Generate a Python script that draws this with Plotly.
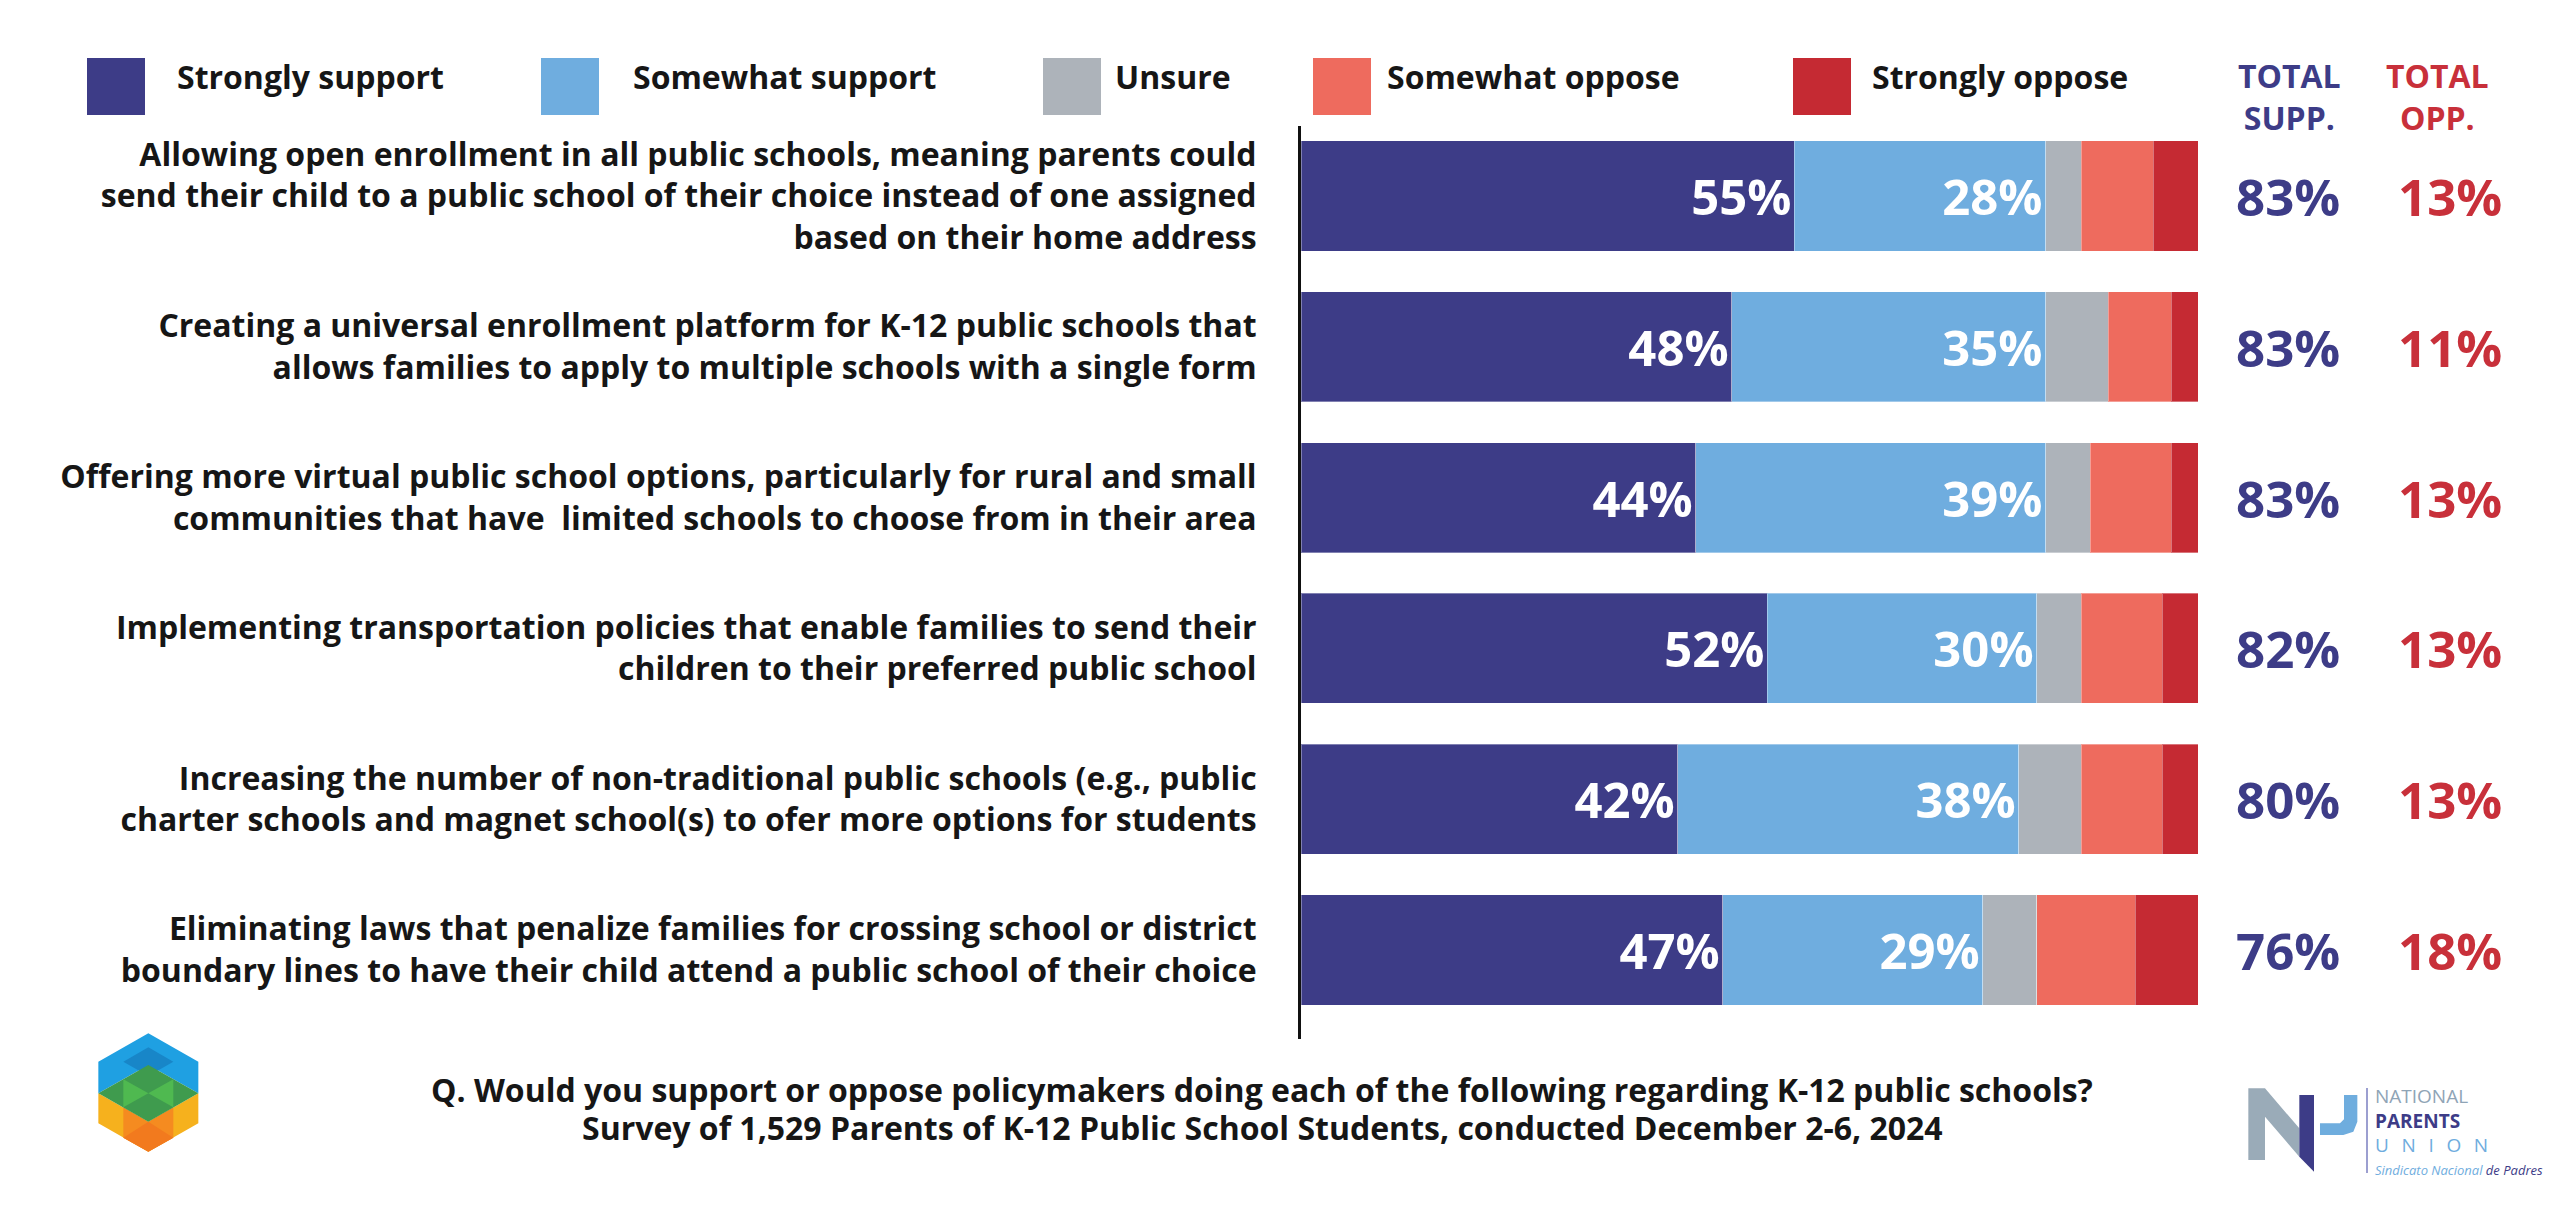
import plotly.graph_objects as go

# survey items (y categories), wrapped the way the chart shows them
items = [
    "Allowing open enrollment in all public schools, meaning parents could<br>"
    "send their child to a public school of their choice instead of one assigned<br>"
    "based on their home address",
    "Creating a universal enrollment platform for K-12 public schools that<br>"
    "allows families to apply to multiple schools with a single form",
    "Offering more virtual public school options, particularly for rural and small<br>"
    "communities that have  limited schools to choose from in their area",
    "Implementing transportation policies that enable families to send their<br>"
    "children to their preferred public school",
    "Increasing the number of non-traditional public schools (e.g., public<br>"
    "charter schools and magnet school(s) to ofer more options for students",
    "Eliminating laws that penalize families for crossing school or district<br>"
    "boundary lines to have their child attend a public school of their choice",
]

series_names = ["Strongly support", "Somewhat support", "Unsure", "Somewhat oppose", "Strongly oppose"]
strongly_support = [55, 48, 44, 52, 42, 47]
somewhat_support = [28, 35, 39, 30, 38, 29]
unsure = [4, 7, 5, 5, 7, 6]
somewhat_oppose = [8, 7, 9, 9, 9, 11]
strongly_oppose = [5, 3, 3, 4, 4, 7]
total_supp = [83, 83, 83, 82, 80, 76]
total_opp = [13, 11, 13, 13, 13, 18]

colors = ["#3d3c87", "#6faddf", "#adb3ba", "#ee6b5e", "#c52a33"]
W, H = 2560, 1220
OFF = 8  # the page body adds an 8px margin, so shift everything back by that much
FONT = "Open Sans"


def px(x):
    return (x - OFF) / W


def py(y):
    return 1 - (y - OFF) / H


def path(pts):
    return "M " + " L ".join(f"{px(x):.5f},{py(y):.5f}" for x, y in pts) + " Z"


fig = go.Figure()
values = [strongly_support, somewhat_support, unsure, somewhat_oppose, strongly_oppose]
for i, (name, vals) in enumerate(zip(series_names, values)):
    show_text = i < 2
    fig.add_trace(go.Bar(
        y=items, x=vals, name=name, orientation="h",
        marker=dict(color=colors[i], line=dict(color="rgba(255,255,255,0.35)", width=1)),
        text=[f"{v}%" for v in vals] if show_text else None,
        textposition="inside" if show_text else "none",
        insidetextanchor="end",
        textfont=dict(family=FONT, size=49, color="white", weight=700),
        hovertemplate="%{y}<br>" + name + ": %{x}%<extra></extra>",
    ))

fig.update_layout(
    width=W, height=H,
    margin=dict(l=0, r=0, t=0, b=0),
    paper_bgcolor="white", plot_bgcolor="white",
    barmode="stack", bargap=0.27, showlegend=False,
    font=dict(family=FONT, color="#161616"),
    xaxis=dict(domain=[px(1301), px(2198)], range=[0, 100], visible=False, fixedrange=True),
    yaxis=dict(
        domain=[py(1039), py(126)], type="category", range=[5.59, -0.464],
        showline=True, linecolor="#111111", linewidth=3, showgrid=False,
        ticks="", ticklabelstandoff=35,
        tickfont=dict(family=FONT, size=32, color="#161616", weight=700),
    ),
)

shapes = []
annotations = []

# legend drawn by hand: big squares with labels
legend_sq_x = [87, 541, 1043, 1313, 1793]
legend_txt_x = [175, 631, 1113, 1385, 1870]
for name, c, sx, tx in zip(series_names, colors, legend_sq_x, legend_txt_x):
    shapes.append(dict(type="rect", xref="paper", yref="paper",
                       x0=px(sx), x1=px(sx + 58), y0=py(115), y1=py(58),
                       fillcolor=c, line=dict(width=0)))
    annotations.append(dict(text=name, xref="paper", yref="paper", x=px(tx), y=py(77),
                            xanchor="left", yanchor="middle", showarrow=False,
                            font=dict(family=FONT, size=32, color="#161616", weight=700)))

# TOTAL headers
annotations.append(dict(text="TOTAL<br>SUPP.", xref="paper", yref="paper", x=px(2289), y=py(97),
                        xanchor="center", yanchor="middle", showarrow=False,
                        font=dict(family=FONT, size=32, color=colors[0], weight=700)))
annotations.append(dict(text="TOTAL<br>OPP.", xref="paper", yref="paper", x=px(2437), y=py(97),
                        xanchor="center", yanchor="middle", showarrow=False,
                        font=dict(family=FONT, size=32, color="#c8303a", weight=700)))

# totals per row
for item, s, o in zip(items, total_supp, total_opp):
    annotations.append(dict(text=f"{s}%", xref="paper", yref="y", x=px(2288), y=item,
                            xanchor="center", yanchor="middle", showarrow=False,
                            font=dict(family=FONT, size=51, color=colors[0], weight=700)))
    annotations.append(dict(text=f"{o}%", xref="paper", yref="y", x=px(2450), y=item,
                            xanchor="center", yanchor="middle", showarrow=False,
                            font=dict(family=FONT, size=51, color="#c8303a", weight=700)))

# footer
footer = [
    "Q. Would you support or oppose policymakers doing each of the following regarding K-12 public schools?",
    "Survey of 1,529 Parents of K-12 Public School Students, conducted December 2-6, 2024",
]
for line, yy in zip(footer, [1089, 1127]):
    annotations.append(dict(text=line, xref="paper", yref="paper", x=px(1262), y=py(yy),
                            xanchor="center", yanchor="middle", showarrow=False,
                            font=dict(family=FONT, size=32, color="#161616", weight=700)))


# left hexagon logo (zoomed-crop coords -> page px)
def hx(pts):
    return path([(zx / 3 + 60, zy / 3 + 1010) for zx, zy in pts])


logo_parts = [
    ([(265, 70), (415, 155), (415, 250), (265, 165), (115, 250), (115, 155)], "#1fa0e2"),
    ([(265, 112), (340, 155), (265, 198), (190, 155)], "#1886c8"),
    ([(115, 250), (265, 335), (415, 250), (415, 340), (265, 425), (115, 340)], "#f6b11d"),
    ([(190, 292), (265, 335), (340, 292), (340, 383), (265, 425), (190, 383)], "#f58b20"),
    ([(265, 335), (340, 383), (265, 425), (190, 383)], "#f27a1e"),
    ([(265, 165), (415, 250), (265, 335), (115, 250)], "#3f9b4e"),
    ([(190, 208), (265, 250), (190, 292)], "#4fb950"),
    ([(340, 208), (265, 250), (340, 292)], "#4fb950"),
]
for pts, c in logo_parts:
    shapes.append(dict(type="path", xref="paper", yref="paper", path=hx(pts),
                       fillcolor=c, line=dict(width=0)))


# National Parents Union logo
def nx(pts):
    return path([(zx / 3 + 2220, zy / 3 + 1060) for zx, zy in pts])


shapes.append(dict(type="path", xref="paper", yref="paper",
                   path=nx([(85, 85), (135, 85), (238, 205), (238, 290), (135, 170), (135, 300), (85, 300)]),
                   fillcolor="#9aabb8", line=dict(width=0)))
shapes.append(dict(type="path", xref="paper", yref="paper",
                   path=nx([(238, 105), (282, 105), (282, 335), (238, 290)]),
                   fillcolor="#3d3c87", line=dict(width=0)))
shapes.append(dict(type="path", xref="paper", yref="paper",
                   path=nx([(372, 105), (412, 105), (412, 185), (400, 215), (370, 225), (300, 225),
                            (300, 190), (360, 190), (372, 178)]),
                   fillcolor="#6fadde", line=dict(width=0)))
shapes.append(dict(type="line", xref="paper", yref="paper",
                   x0=px(2367), x1=px(2367), y0=py(1088), y1=py(1173),
                   line=dict(color="#7b7fc0", width=1.5)))
annotations.append(dict(
    text="<span style='color:#8fa4b6'>NATIONAL</span><br>"
         "<span style='color:#3d3c87'><b>PARENTS</b></span><br>"
         "<span style='color:#6fadde'>U\u2002\u2009N\u2002\u2009I\u2002\u2009O\u2002\u2009N</span>",
    xref="paper", yref="paper", x=px(2373), y=py(1120),
    xanchor="left", yanchor="middle", align="left", showarrow=False,
    font=dict(family=FONT, size=19, color="#8fa4b6", weight=400)))
annotations.append(dict(text="<i>Sindicato Nacional <span style='color:#3d3c87'>de Padres</span></i>",
                        xref="paper", yref="paper", x=px(2373), y=py(1170),
                        xanchor="left", yanchor="middle", showarrow=False,
                        font=dict(family=FONT, size=13, color="#6fadde")))

fig.update_layout(shapes=shapes, annotations=annotations)
fig.write_html("out.html")
